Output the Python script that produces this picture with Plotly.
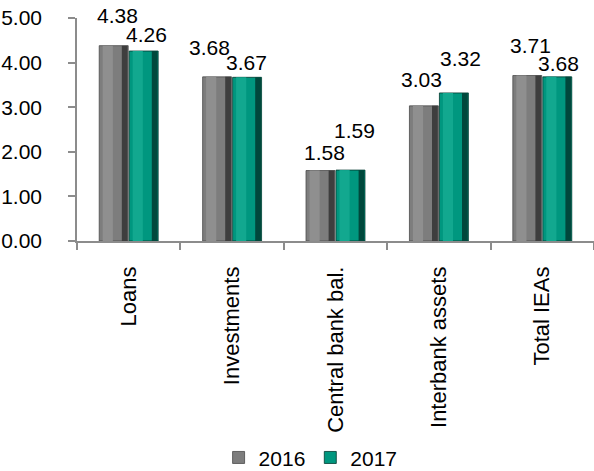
import plotly.graph_objects as go

categories = ["Loans", "Investments", "Central bank bal.", "Interbank assets", "Total IEAs"]
values_2016 = [4.38, 3.68, 1.58, 3.03, 3.71]
values_2017 = [4.26, 3.67, 1.59, 3.32, 3.68]
series_names = ["2016", "2017"]

# label offsets (px) relative to bar top / bar centre, as placed in the source
label_dx_2016 = [3, -8, 3, -3, 3]
label_gap_2016 = [23, 22, 11, 19, 23]
label_dx_2017 = [3, 0, 5, 7, 2]
label_gap_2017 = [9, 7, 32, 27, 6]

FONT = "Liberation Sans, Arial, sans-serif"
FS = 21
FS_CAT = 22
BW = 0.28

grey_main = "#7d7d7d"
grey_dark = "#3e3e3e"
grey_light = "#8f8f8f"
teal_main = "#00977f"
teal_dark = "#00483c"
teal_light = "#12a88f"

fig = go.Figure()

def add_bar(vals, name, offset, main, light, dark, edge):
    fig.add_trace(go.Bar(x=categories, y=vals, name=name, offset=offset, width=BW,
                         marker=dict(color=main, line=dict(color=edge, width=0.8)),
                         showlegend=True, hoverinfo="skip"))
    # lighter left body strip
    fig.add_trace(go.Bar(x=categories, y=vals, offset=offset + BW * 0.12, width=BW * 0.35,
                         marker=dict(color=light, line=dict(width=0)), showlegend=False, hoverinfo="skip"))
    # darker right edge strip
    fig.add_trace(go.Bar(x=categories, y=vals, offset=offset + BW * 0.78, width=BW * 0.2,
                         marker=dict(color=dark, line=dict(width=0)), showlegend=False, hoverinfo="skip"))

add_bar(values_2016, series_names[0], -BW - 0.005, grey_main, grey_light, grey_dark, "#4a4a4a")
add_bar(values_2017, series_names[1], 0.005, teal_main, teal_light, teal_dark, "#00382f")

px_per_cat = 517.0 / 5
for i, c in enumerate(categories):
    fig.add_annotation(x=c, y=values_2016[i], xref="x", yref="y", text=f"{values_2016[i]:.2f}",
                       showarrow=False, yanchor="bottom", xanchor="center",
                       xshift=-BW / 2 * px_per_cat + label_dx_2016[i], yshift=label_gap_2016[i] - 6,
                       font=dict(family=FONT, size=FS, color="#000000"))
    fig.add_annotation(x=c, y=values_2017[i], xref="x", yref="y", text=f"{values_2017[i]:.2f}",
                       showarrow=False, yanchor="bottom", xanchor="center",
                       xshift=BW / 2 * px_per_cat + label_dx_2017[i], yshift=label_gap_2017[i] - 6,
                       font=dict(family=FONT, size=FS, color="#000000"))

fig.update_layout(
    width=594, height=471,
    margin=dict(l=77, r=0, t=18, b=230, autoexpand=False),
    barmode="overlay",
    paper_bgcolor="white", plot_bgcolor="white",
    font=dict(family=FONT, size=FS, color="#000000"),
    legend=dict(orientation="h", xref="container", yref="container", x=0.368, y=0.028,
                xanchor="left", yanchor="middle", bgcolor="rgba(0,0,0,0)",
                font=dict(family=FONT, size=FS), itemwidth=30, traceorder="normal"),
    xaxis=dict(type="category", tickangle=-90, tickson="boundaries", ticks="outside",
               ticklen=7, tickcolor="#8c8c8c", tickwidth=1.5, ticklabelstandoff=15,
               showline=True, linecolor="#8c8c8c", linewidth=1.5, showgrid=False,
               range=[-0.5, 4.5], tickfont=dict(family=FONT, size=FS_CAT)),
    yaxis=dict(range=[0, 5], dtick=1, tickformat=".2f", ticks="outside", ticklen=7,
               tickcolor="#8c8c8c", tickwidth=1.5, showline=True, linecolor="#8c8c8c",
               linewidth=1.5, showgrid=False, zeroline=False, ticklabelstandoff=22,
               tickfont=dict(family=FONT, size=FS)),
)

fig.write_html("out.html")
